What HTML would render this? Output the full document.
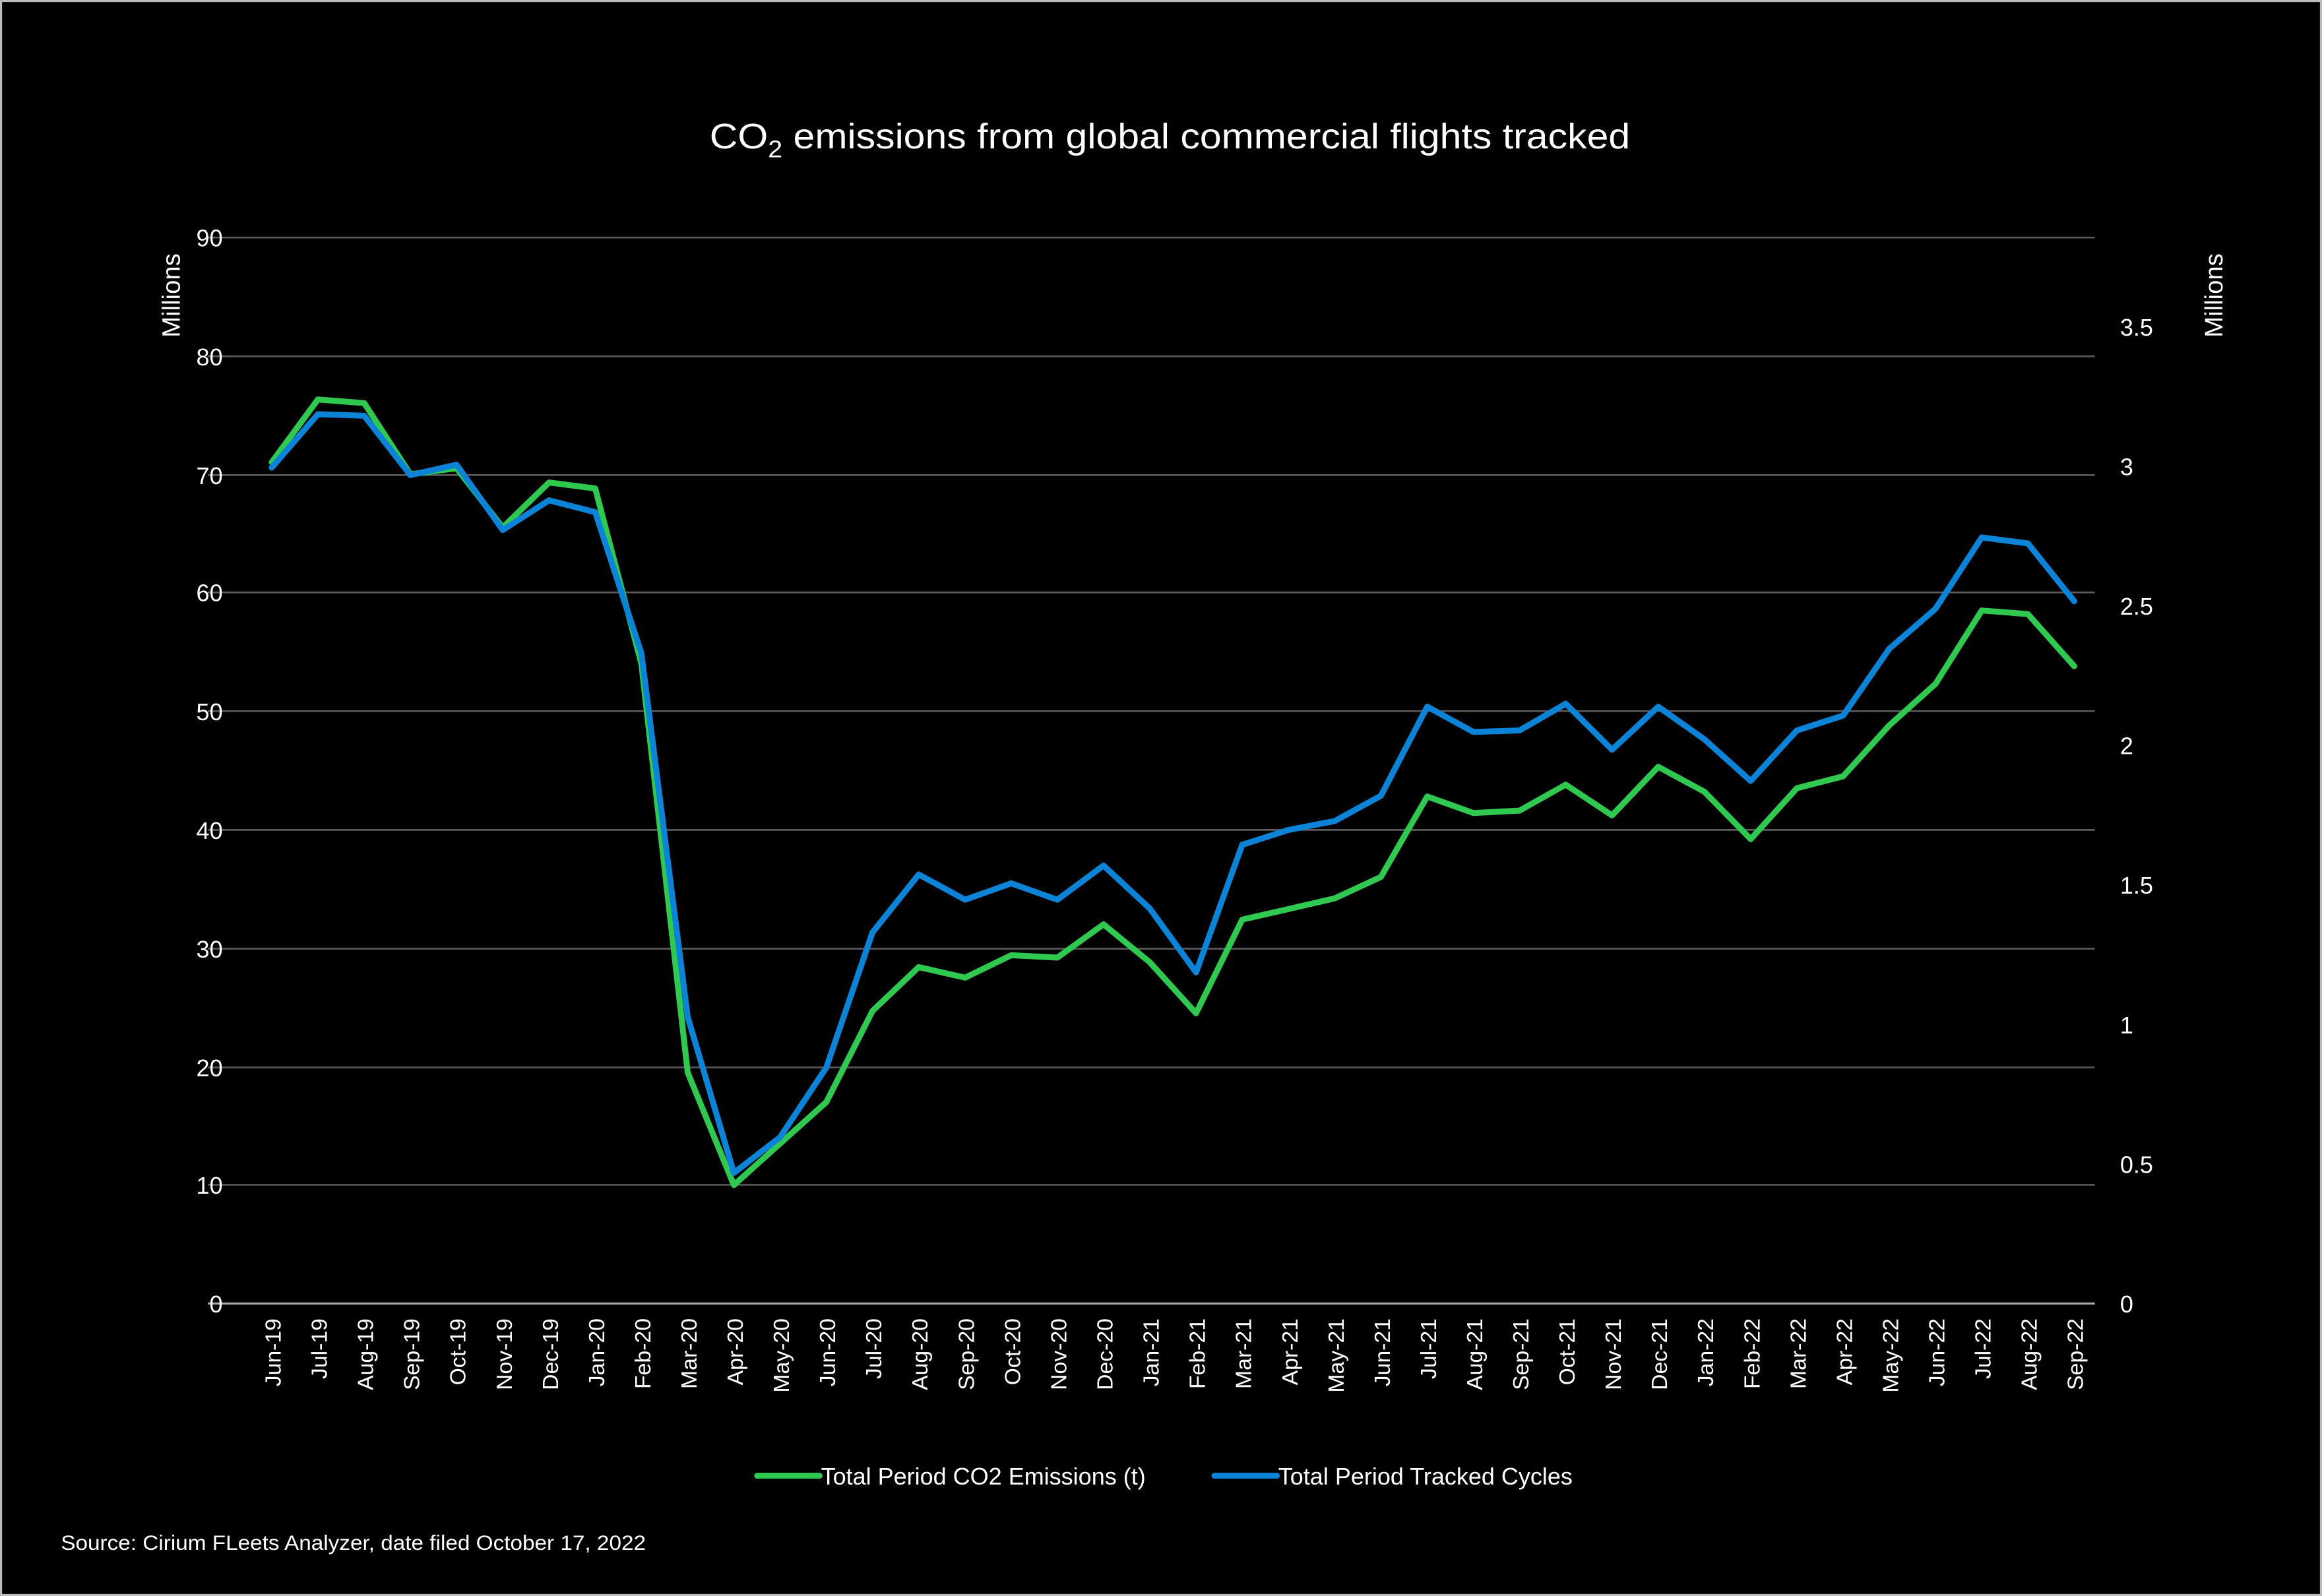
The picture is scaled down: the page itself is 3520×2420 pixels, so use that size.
<!DOCTYPE html>
<html><head><meta charset="utf-8"><style>
html,body{margin:0;padding:0;background:#000;}
svg{display:block;}
text{font-family:"Liberation Sans",sans-serif;fill:#fff;}
</style></head><body>
<svg width="3520" height="2420" viewBox="0 0 1564 1075" preserveAspectRatio="none" xmlns="http://www.w3.org/2000/svg">
<rect x="0" y="0" width="1564" height="1075" fill="#000"/>
<rect x="0.7" y="0.7" width="1562.6" height="1073.6" fill="none" stroke="#bbb" stroke-width="1.4"/>
<text x="478" y="100" font-size="24" textLength="620" lengthAdjust="spacingAndGlyphs">CO<tspan font-size="16" dy="6">2</tspan><tspan dy="-6">  emissions from global commercial flights tracked</tspan></text>
<g stroke="#595959" stroke-width="1.2">
<line x1="140" x2="1411" y1="160" y2="160"/><line x1="140" x2="1411" y1="240" y2="240"/>
<line x1="140" x2="1411" y1="320" y2="320"/><line x1="140" x2="1411" y1="399" y2="399"/>
<line x1="140" x2="1411" y1="479" y2="479"/><line x1="140" x2="1411" y1="559" y2="559"/>
<line x1="140" x2="1411" y1="639" y2="639"/><line x1="140" x2="1411" y1="719" y2="719"/>
<line x1="140" x2="1411" y1="798" y2="798"/>
</g>
<line x1="140" x2="1411" y1="878" y2="878" stroke="#aaa" stroke-width="1.4"/>
<g font-size="16" text-anchor="end">
<text x="150" y="166">90</text><text x="150" y="246">80</text><text x="150" y="326">70</text>
<text x="150" y="405">60</text><text x="150" y="485">50</text><text x="150" y="565">40</text>
<text x="150" y="645">30</text><text x="150" y="725">20</text><text x="150" y="804">10</text>
<text x="150" y="884">0</text>
</g>
<g font-size="16" text-anchor="start">
<text x="1428" y="226">3.5</text><text x="1428" y="320">3</text><text x="1428" y="414">2.5</text>
<text x="1428" y="508">2</text><text x="1428" y="602">1.5</text><text x="1428" y="696">1</text>
<text x="1428" y="790">0.5</text><text x="1428" y="884">0</text>
</g>
<text transform="translate(121,199) rotate(-90)" font-size="17" text-anchor="middle">Millions</text>
<text transform="translate(1497,199) rotate(-90)" font-size="17" text-anchor="middle">Millions</text>
<g font-size="15" text-anchor="end">
<text transform="translate(189,888) rotate(-90)">Jun-19</text>
<text transform="translate(220.1,888) rotate(-90)">Jul-19</text>
<text transform="translate(251.3,888) rotate(-90)">Aug-19</text>
<text transform="translate(282.4,888) rotate(-90)">Sep-19</text>
<text transform="translate(313.5,888) rotate(-90)">Oct-19</text>
<text transform="translate(344.7,888) rotate(-90)">Nov-19</text>
<text transform="translate(375.8,888) rotate(-90)">Dec-19</text>
<text transform="translate(406.9,888) rotate(-90)">Jan-20</text>
<text transform="translate(438,888) rotate(-90)">Feb-20</text>
<text transform="translate(469.2,888) rotate(-90)">Mar-20</text>
<text transform="translate(500.3,888) rotate(-90)">Apr-20</text>
<text transform="translate(531.4,888) rotate(-90)">May-20</text>
<text transform="translate(562.6,888) rotate(-90)">Jun-20</text>
<text transform="translate(593.7,888) rotate(-90)">Jul-20</text>
<text transform="translate(624.8,888) rotate(-90)">Aug-20</text>
<text transform="translate(656,888) rotate(-90)">Sep-20</text>
<text transform="translate(687.1,888) rotate(-90)">Oct-20</text>
<text transform="translate(718.2,888) rotate(-90)">Nov-20</text>
<text transform="translate(749.3,888) rotate(-90)">Dec-20</text>
<text transform="translate(780.5,888) rotate(-90)">Jan-21</text>
<text transform="translate(811.6,888) rotate(-90)">Feb-21</text>
<text transform="translate(842.7,888) rotate(-90)">Mar-21</text>
<text transform="translate(873.9,888) rotate(-90)">Apr-21</text>
<text transform="translate(905,888) rotate(-90)">May-21</text>
<text transform="translate(936.1,888) rotate(-90)">Jun-21</text>
<text transform="translate(967.3,888) rotate(-90)">Jul-21</text>
<text transform="translate(998.4,888) rotate(-90)">Aug-21</text>
<text transform="translate(1029.5,888) rotate(-90)">Sep-21</text>
<text transform="translate(1060.6,888) rotate(-90)">Oct-21</text>
<text transform="translate(1091.8,888) rotate(-90)">Nov-21</text>
<text transform="translate(1122.9,888) rotate(-90)">Dec-21</text>
<text transform="translate(1154,888) rotate(-90)">Jan-22</text>
<text transform="translate(1185.2,888) rotate(-90)">Feb-22</text>
<text transform="translate(1216.3,888) rotate(-90)">Mar-22</text>
<text transform="translate(1247.4,888) rotate(-90)">Apr-22</text>
<text transform="translate(1278.6,888) rotate(-90)">May-22</text>
<text transform="translate(1309.7,888) rotate(-90)">Jun-22</text>
<text transform="translate(1340.8,888) rotate(-90)">Jul-22</text>
<text transform="translate(1371.9,888) rotate(-90)">Aug-22</text>
<text transform="translate(1403,888) rotate(-90)">Sep-22</text>
</g>
<polyline id="g" fill="none" stroke="#2fc94f" stroke-width="4" stroke-linejoin="round" stroke-linecap="round" points=""/>
<polyline id="b" fill="none" stroke="#0b84d8" stroke-width="4" stroke-linejoin="round" stroke-linecap="round" points=""/>
<line x1="510" x2="552" y1="994" y2="994" stroke="#2fc94f" stroke-width="4" stroke-linecap="round"/>
<text x="553" y="1000" font-size="16">Total Period CO2 Emissions (t)</text>
<line x1="818" x2="860" y1="994" y2="994" stroke="#0b84d8" stroke-width="4" stroke-linecap="round"/>
<text x="861" y="1000" font-size="16">Total Period Tracked Cycles</text>
<text x="41" y="1044" font-size="14" textLength="394" lengthAdjust="spacingAndGlyphs">Source: Cirium FLeets Analyzer, date filed October 17, 2022</text>
</svg>
<script>
var gv=[71,76.3,76,70,70.5,65.5,69.3,68.8,54,19.5,10,13.5,17,24.7,28.4,27.5,29.4,29.2,32,28.8,24.5,32.4,33.3,34.2,36,42.8,41.4,41.6,43.8,41.2,45.3,43.2,39.2,43.5,44.5,48.8,52.3,58.5,58.2,53.8];
var by=[315,279,280,320,313,357,337,345,440,685,790,766,719,628,589,606,595,606,583,612,655,569,559,553,536,476,493,492,474,505,476,498,526,492,482,437,410,362,366,405];
var gp=[],bp=[];
for(var i=0;i<40;i++){var x=183+i*31.13;gp.push(x.toFixed(1)+","+(878-gv[i]*7.98).toFixed(1));bp.push(x.toFixed(1)+","+by[i]);}
document.getElementById("g").setAttribute("points",gp.join(" "));
document.getElementById("b").setAttribute("points",bp.join(" "));
</script>
</body></html>
